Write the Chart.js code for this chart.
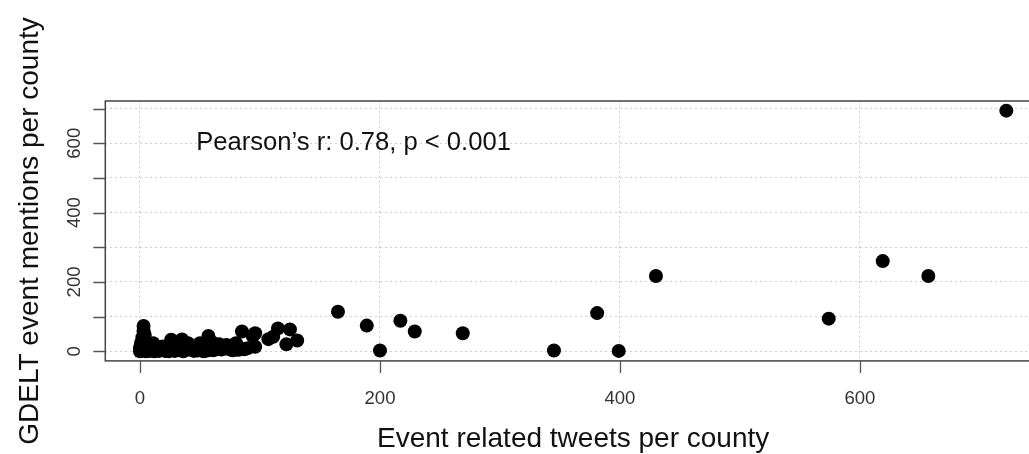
<!DOCTYPE html>
<html>
<head>
<meta charset="utf-8">
<script src="https://cdn.jsdelivr.net/npm/chart.js@4"></script>
<style>
  html, body { margin: 0; padding: 0; background: #fff; overflow: hidden; }
  #wrap { width: 1060px; height: 454px; }
</style>
</head>
<body>
<div id="wrap"><canvas id="scatterChart" width="1060" height="454"></canvas></div>
<script>
// Event related tweets per county (x) vs GDELT event mentions per county (y)
const tweets = [
    0, 1, 2, 0, 1, 3, 4, 2, 5, 6, 8, 10, 11, 13, 15, 17, 19, 21, 23, 26,
    28, 30, 33, 35, 37, 40, 42, 44, 47, 50, 52, 54, 57, 58, 60, 63, 66, 70, 72, 76,
    79, 80, 85, 84, 94, 96, 96, 107, 111, 115, 122, 125, 131,
    5, 9, 12, 16, 20, 24, 29, 32, 36, 39, 45, 48, 53, 56, 61, 64, 68, 73, 77, 82, 87, 90,
    2, 3, 1,
    165, 189, 200, 217, 229, 269, 345, 381, 399, 430, 574, 619, 657, 722
];
const mentions = [
    0, 2, 5, 10, 18, 73, 47, 30, 12, 3, 1, 6, 23, 2, 9, 4, 14, 1, 7, 33,
    3, 12, 5, 34, 2, 23, 8, 3, 12, 23, 5, 15, 44, 8, 26, 14, 20, 16, 18, 13,
    4, 23, 57, 8, 44, 52, 13, 35, 42, 66, 20, 63, 31,
    0, 3, 0, 1, 3, 0, 1, 3, 0, 4, 1, 2, 0, 2, 3, 6, 5, 7, 3, 4, 6, 9,
    40, 58, 25,
    114, 74, 2, 88, 57, 52, 2, 110, 1, 217, 94, 260, 217, 694
];

const xTicks = [0, 200, 400, 600];
const yTicks = [0, 100, 200, 300, 400, 500, 600, 700];
const yTickLabels = [0, 200, 400, 600];

const xTitle = 'Event related tweets per county';
const yTitle = 'GDELT event mentions per county';
const note = 'Pearson\u2019s r: 0.78, p < 0.001';

const fontFamily = '"Liberation Sans", Arial, Helvetica, sans-serif';

const points = tweets.map((t, i) => ({ x: t, y: mentions[i] }));

// R style box, ticks, labels
const rAxes = {
    id: 'rAxes',
    afterDraw(chart) {
        const ctx = chart.ctx;
        const area = chart.chartArea;
        const xs = chart.scales.x;
        const ys = chart.scales.y;
        ctx.save();

        ctx.strokeStyle = '#444';
        ctx.lineWidth = 1.5;
        ctx.strokeRect(area.left, area.top, area.right - area.left, area.bottom - area.top);

        ctx.strokeStyle = '#555';
        ctx.lineWidth = 1.3;
        ctx.beginPath();
        xTicks.forEach(v => {
            const px = Math.round(xs.getPixelForValue(v)) + 0.5;
            ctx.moveTo(px, area.bottom);
            ctx.lineTo(px, area.bottom + 12);
        });
        yTicks.forEach(v => {
            const py = Math.round(ys.getPixelForValue(v)) + 0.5;
            ctx.moveTo(area.left - 12, py);
            ctx.lineTo(area.left, py);
        });
        ctx.stroke();

        ctx.fillStyle = '#333';
        ctx.font = '18.6px ' + fontFamily;
        ctx.textAlign = 'center';
        ctx.textBaseline = 'alphabetic';
        xTicks.forEach(v => {
            ctx.fillText(String(v), xs.getPixelForValue(v), area.bottom + 42.6);
        });
        yTickLabels.forEach(v => {
            ctx.save();
            ctx.translate(area.left - 25.5, ys.getPixelForValue(v));
            ctx.rotate(-Math.PI / 2);
            ctx.fillText(String(v), 0, 0);
            ctx.restore();
        });

        ctx.fillStyle = '#111';
        ctx.font = '28px ' + fontFamily;
        ctx.fillText(xTitle, (area.left + area.right) / 2, area.bottom + 86);
        ctx.save();
        ctx.translate(38, (area.top + area.bottom) / 2);
        ctx.rotate(-Math.PI / 2);
        ctx.fillText(yTitle, 0, 0);
        ctx.restore();

        ctx.font = '25.6px ' + fontFamily;
        ctx.fillText(note, xs.getPixelForValue(178), ys.getPixelForValue(600) + 7);

        ctx.restore();
    }
};

const ctx = document.getElementById('scatterChart').getContext('2d');
const scatterChart = new Chart(ctx, {
    type: 'scatter',
    data: {
        datasets: [{
            label: 'Counties',
            data: points,
            pointRadius: 7,
            pointHoverRadius: 7,
            pointBorderWidth: 0,
            backgroundColor: '#000',
            borderColor: '#000'
        }]
    },
    options: {
        responsive: false,
        animation: false,
        devicePixelRatio: 1,
        layout: {
            padding: { left: 105.3, right: 19, top: 101, bottom: 93.1 }
        },
        plugins: {
            legend: { display: false },
            tooltip: { enabled: false }
        },
        scales: {
            x: {
                type: 'linear',
                min: -28.9,
                max: 750.9,
                afterBuildTicks: s => { s.ticks = xTicks.map(v => ({ value: v })); },
                afterFit: s => { s.height = 0; },
                ticks: { display: false },
                grid: { color: '#cfcfcf', lineWidth: 1, drawTicks: false },
                border: { display: false, dash: [2, 3] }
            },
            y: {
                type: 'linear',
                min: -27.8,
                max: 721.8,
                afterBuildTicks: s => { s.ticks = yTicks.map(v => ({ value: v })); },
                afterFit: s => { s.width = 0; },
                ticks: { display: false },
                grid: { color: '#cfcfcf', lineWidth: 1, drawTicks: false },
                border: { display: false, dash: [2, 3] }
            }
        }
    },
    plugins: [rAxes]
});
</script>
</body>
</html>
